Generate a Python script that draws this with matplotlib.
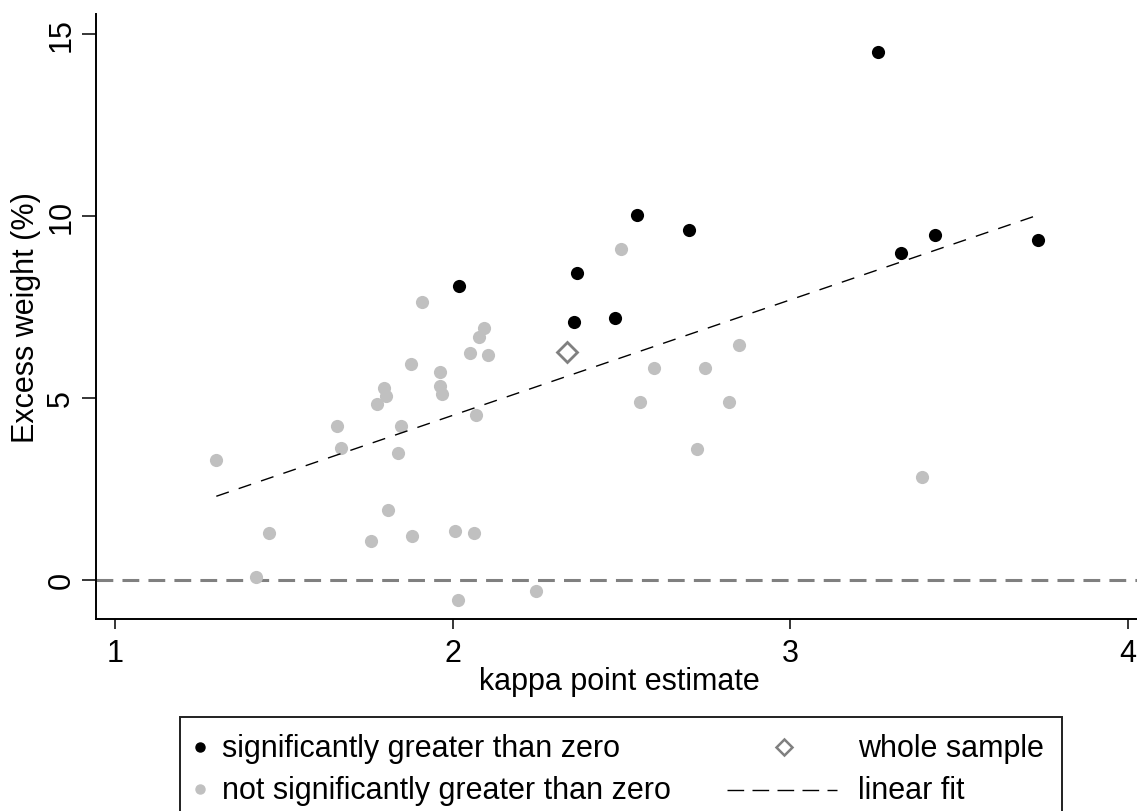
import numpy as np
import matplotlib
matplotlib.use("Agg")
import matplotlib.pyplot as plt
from matplotlib.lines import Line2D
from matplotlib.patches import Rectangle

plt.rcParams["font.family"] = ["Liberation Sans", "DejaVu Sans"]

# kappa estimate / excess weight (%) per group
sig_kappa = [2.02, 2.359, 2.369, 2.481, 2.547, 2.699, 3.26, 3.326, 3.428, 3.733]
sig_weight = [8.08, 7.08, 8.43, 7.19, 10.02, 9.60, 14.50, 8.99, 9.48, 9.34]

nsig_kappa = [1.30, 1.417, 1.455, 1.658, 1.669, 1.759, 1.775, 1.797, 1.802, 1.808,
              1.837, 1.847, 1.875, 1.880, 1.909, 1.963, 1.963, 1.968, 2.006, 2.016,
              2.050, 2.064, 2.069, 2.079, 2.092, 2.104, 2.247, 2.499, 2.554, 2.597,
              2.722, 2.746, 2.818, 2.847, 3.39]
nsig_weight = [3.30, 0.08, 1.28, 4.22, 3.63, 1.06, 4.84, 5.26, 5.05, 1.92,
               3.49, 4.23, 5.92, 1.19, 7.62, 5.72, 5.32, 5.10, 1.33, -0.56,
               6.22, 1.28, 4.52, 6.68, 6.91, 6.18, -0.30, 9.10, 4.89, 5.83,
               3.58, 5.83, 4.89, 6.45, 2.83]

whole_kappa = [2.338]
whole_weight = [6.25]

x_ticks = [1, 2, 3, 4]
y_ticks = [0, 5, 10, 15]

SIG_C = "black"
NSIG_C = "#c0c0c0"
WHOLE_C = "#808080"
FS = 22


def draw():
    fig = plt.figure(figsize=(11.37, 8.12), dpi=100)
    ax = fig.add_axes([0.0842, 0.2365, 0.9158, 0.745])

    ax.axhline(0, color="#808080", lw=2.2, dashes=(5.5, 3), zorder=1)

    ax.scatter(nsig_kappa, nsig_weight, s=90, color=NSIG_C, lw=0, zorder=2)
    ax.scatter(sig_kappa, sig_weight, s=90, color=SIG_C, lw=0, zorder=3)
    ax.plot(whole_kappa, whole_weight, ls="none", marker="D", ms=10.5,
            mfc="white", mec=WHOLE_C, mew=2, zorder=4)

    # OLS fit over all groups
    xs = np.array(sig_kappa + nsig_kappa)
    ys = np.array(sig_weight + nsig_weight)
    b, a = np.polyfit(xs, ys, 1)
    fx = np.array([xs.min(), xs.max()])
    ax.plot(fx, a + b * fx, color="black", lw=1, dashes=(9.5, 7.5), zorder=5)

    ax.set_xlim(0.943, 4.026)
    ax.set_ylim(-1.08, 15.55)
    ax.set_xticks(x_ticks)
    ax.set_yticks(y_ticks)
    ax.set_xticklabels([str(t) for t in x_ticks])
    ax.set_yticklabels([str(t) for t in y_ticks])
    for lab in ax.get_yticklabels():
        lab.set_rotation(90)
        lab.set_va("center")

    for side in ("top", "right"):
        ax.spines[side].set_visible(False)
    for side in ("left", "bottom"):
        ax.spines[side].set_linewidth(1.4)
    ax.tick_params(axis="y", length=10, width=1.1, pad=4, labelsize=FS)
    ax.tick_params(axis="x", length=7.5, width=1.1, pad=6, labelsize=FS)

    ax.set_xlabel("kappa point estimate", fontsize=FS)
    ax.set_ylabel("Excess weight (%)", fontsize=FS)
    ax.xaxis.set_label_coords(0.503, -0.078)
    ax.xaxis.label.set_va("top")
    ax.yaxis.set_label_coords(-0.053, 0.5)

    # legend box, drawn by hand in pixel positions
    W, H = 1137.0, 812.0
    def fx_(px):
        return px / W
    def fy_(py):
        return 1 - py / H
    fig.add_artist(Rectangle((fx_(180), fy_(840)), fx_(1062) - fx_(180),
                             fy_(718) - fy_(840), transform=fig.transFigure,
                             fill=False, ec="#202020", lw=1.4))
    fig.add_artist(Line2D([fx_(200)], [fy_(748)], ls="none", marker="o", ms=6.5,
                          mfc=SIG_C, mec=SIG_C, transform=fig.transFigure))
    fig.add_artist(Line2D([fx_(200)], [fy_(790)], ls="none", marker="o", ms=6.5,
                          mfc=NSIG_C, mec=NSIG_C, transform=fig.transFigure))
    fig.add_artist(Line2D([fx_(784)], [fy_(748)], ls="none", marker="D", ms=8.5,
                          mfc="white", mec=WHOLE_C, mew=1.8, transform=fig.transFigure))
    fig.add_artist(Line2D([fx_(727), fx_(837)], [fy_(791), fy_(791)], color="black",
                          lw=1, dashes=(12, 6), transform=fig.transFigure))
    fig.text(fx_(222), fy_(749), "significantly greater than zero", fontsize=FS,
             va="center", ha="left")
    fig.text(fx_(222), fy_(791), "not significantly greater than zero", fontsize=FS,
             va="center", ha="left")
    fig.text(fx_(858), fy_(749), "whole sample", fontsize=FS, va="center", ha="left")
    fig.text(fx_(858), fy_(791), "linear fit", fontsize=FS, va="center", ha="left")

    fig.savefig("out.png", dpi=100, facecolor="white")


if __name__ == "__main__":
    draw()
